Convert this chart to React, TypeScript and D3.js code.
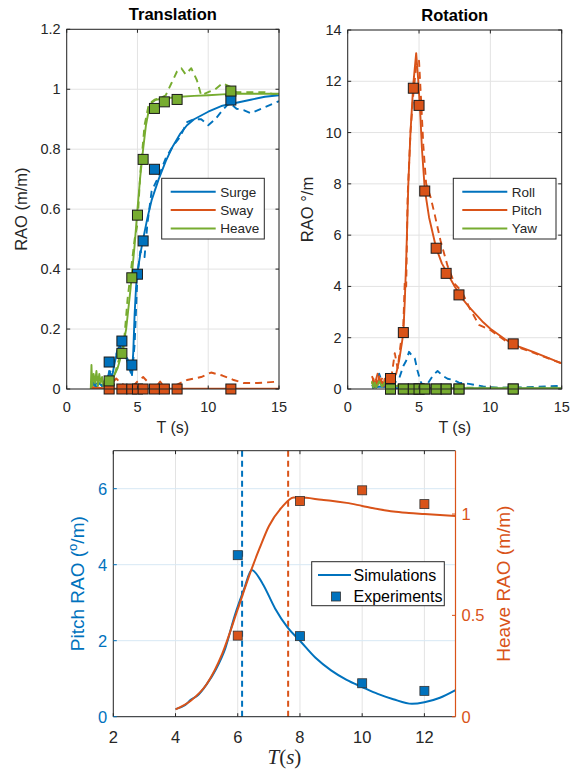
import * as d3 from 'd3';

const blue = '#0072BD';
const orange = '#D95319';
const green = '#77AC30';
const ink = '#262626';
const gridColor = '#e3e3e3';
const font = '"Liberation Sans", Arial, sans-serif';

type Pt = [number, number];

// Translation panel
const transXTicks = [0, 5, 10, 15];
const transYTicks = [0, 0.2, 0.4, 0.6, 0.8, 1, 1.2];
const expPeriods = [3.0, 3.9, 4.6, 5.0, 5.4, 6.2, 6.9, 7.8, 11.6];
const surgeExpT = [3.0, 3.9, 4.6, 5.0, 5.4, 6.2, 11.6];
const surgeExp = [0.09, 0.16, 0.08, 0.383, 0.494, 0.733, 0.964];
const swayExp = [0, 0, 0, 0, 0, 0, 0, 0, 0];
const heaveExp = [0.027, 0.119, 0.371, 0.58, 0.766, 0.936, 0.958, 0.966, 0.994];

const surgeSim: Pt[] = [
  [1.7, 0.01], [1.9, 0.02], [2.1, 0.005], [2.3, 0.02], [2.5, 0.01], [2.7, 0.02], [2.9, 0.03],
  [3.0, 0.06], [3.2, 0.04], [3.4, 0.09], [3.6, 0.13], [3.8, 0.15], [3.9, 0.15], [4.1, 0.12],
  [4.3, 0.09], [4.5, 0.06], [4.6, 0.05], [4.7, 0.12], [4.8, 0.25], [4.9, 0.34], [5.0, 0.39],
  [5.2, 0.45], [5.4, 0.5], [5.7, 0.57], [6.0, 0.63], [6.5, 0.7], [7, 0.76], [7.5, 0.81],
  [8, 0.85], [8.5, 0.88], [9, 0.9], [10, 0.925], [11, 0.945], [12, 0.955], [13, 0.965],
  [14, 0.975], [15, 0.98],
];
const surgeModel: Pt[] = [
  [1.7, 0.01], [2.2, 0.02], [2.6, 0.01], [3.0, 0.05], [3.3, 0.08], [3.7, 0.15], [4.0, 0.12],
  [4.3, 0.1], [4.6, 0.04], [4.8, 0.15], [5.0, 0.38], [5.2, 0.46], [5.5, 0.44], [5.7, 0.55],
  [6.0, 0.66], [6.5, 0.71], [7.0, 0.77], [7.5, 0.81], [8.0, 0.84], [8.5, 0.89], [9.0, 0.9],
  [9.5, 0.9], [10.0, 0.88], [10.5, 0.9], [11, 0.93], [11.5, 0.955], [12, 0.935], [12.5, 0.93],
  [13, 0.92], [14, 0.94], [15, 0.96],
];
const swaySim: Pt[] = [[1.7, 0.002], [2.2, 0.004], [2.8, 0.002], [3.2, 0.001], [15, 0.001]];
const swayModel: Pt[] = [
  [1.7, 0.005], [2.5, 0.01], [3.2, 0.02], [3.5, 0.035], [3.8, 0.02], [4.2, 0.01], [4.6, 0.005],
  [5.0, 0.025], [5.4, 0.04], [5.8, 0.02], [6.2, 0.0], [6.6, 0.025], [7.0, 0.0], [7.4, 0.0],
  [7.8, 0.015], [8.5, 0.03], [9.5, 0.04], [10.2, 0.055], [11, 0.045], [11.8, 0.03],
  [12.5, 0.02], [13.5, 0.02], [15, 0.025],
];
const heaveSim: Pt[] = [
  [1.7, 0.0], [1.75, 0.08], [1.8, 0.01], [1.9, 0.05], [2.0, 0.02], [2.1, 0.06], [2.2, 0.01],
  [2.3, 0.05], [2.4, 0.02], [2.5, 0.04], [2.6, 0.01], [2.7, 0.03], [2.8, 0.02], [2.9, 0.03],
  [3.0, 0.03], [3.3, 0.04], [3.6, 0.07], [3.9, 0.12], [4.2, 0.2], [4.5, 0.33], [4.8, 0.48],
  [5.0, 0.6], [5.2, 0.71], [5.4, 0.8], [5.6, 0.88], [5.8, 0.93], [6.0, 0.955], [6.3, 0.965],
  [7, 0.97], [8, 0.975], [9, 0.978], [10, 0.98], [11, 0.983], [12, 0.985], [13, 0.985],
  [14, 0.985], [15, 0.985],
];
const heaveModel: Pt[] = [
  [1.8, 0.03], [2.0, 0.01], [2.2, 0.04], [2.5, 0.01], [2.8, 0.03], [3.0, 0.02], [3.4, 0.05],
  [3.7, 0.1], [4.0, 0.13], [4.3, 0.3], [4.6, 0.42], [4.8, 0.5], [5.0, 0.55], [5.2, 0.72],
  [5.5, 0.88], [5.8, 0.95], [6.2, 0.965], [6.6, 0.97], [7.0, 0.98], [7.4, 1.02], [7.8, 1.06],
  [8.1, 1.07], [8.4, 1.05], [8.8, 1.07], [9.2, 1.03], [9.5, 0.98], [10, 0.99], [10.5, 1.0],
  [11, 1.02], [11.5, 1.01], [12, 0.99], [13, 0.99], [14, 0.99], [15, 0.98],
];

// Rotation panel
const rotXTicks = [0, 5, 10, 15];
const rotYTicks = [0, 2, 4, 6, 8, 10, 12, 14];
const rollExp = [0, 0, 0, 0, 0, 0, 0, 0, 0];
const pitchExp = [0.41, 2.2, 11.73, 11.06, 7.72, 5.49, 4.51, 3.67, 1.76];
const yawExp = [0, 0, 0, 0, 0, 0, 0, 0, 0];

const rollSim: Pt[] = [[1.7, 0.05], [2.3, 0.1], [3.0, 0.06], [3.5, 0.03], [6, 0.02], [15, 0.02]];
const rollModel: Pt[] = [
  [1.7, 0.1], [2.0, 0.3], [2.2, 0.6], [2.4, 0.3], [2.7, 0.1], [3.0, 0.3], [3.3, 0.25],
  [3.6, 0.4], [3.9, 0.9], [4.1, 1.1], [4.3, 1.45], [4.5, 1.3], [4.7, 1.2], [4.9, 0.7],
  [5.1, 0.3], [5.3, 0.1], [5.6, 0.2], [6.0, 0.55], [6.3, 0.7], [6.7, 0.5], [7.0, 0.4],
  [7.4, 0.35], [7.8, 0.25], [8.5, 0.2], [9, 0.15], [9.5, 0.1], [10.5, 0.05], [12, 0.06],
  [13, 0.08], [15, 0.12],
];
const pitchSim: Pt[] = [
  [1.7, 0.2], [1.8, 0.4], [1.9, 0.1], [2.0, 0.35], [2.1, 0.15], [2.2, 0.5], [2.3, 0.2],
  [2.4, 0.3], [2.5, 0.1], [2.6, 0.4], [2.7, 0.15], [2.8, 0.3], [2.9, 0.2], [3.0, 0.3],
  [3.2, 0.4], [3.4, 0.6], [3.6, 1.1], [3.8, 1.8], [3.9, 2.2], [4.0, 3.4], [4.1, 5.0],
  [4.25, 8.0], [4.4, 10.0], [4.6, 11.9], [4.8, 13.1], [4.95, 12.0], [5.1, 10.6], [5.2, 9.4],
  [5.4, 7.8], [5.7, 6.7], [6.2, 5.5], [6.6, 4.9], [7, 4.5], [7.5, 4.0], [8, 3.55],
  [8.5, 3.2], [9, 2.9], [9.5, 2.6], [10, 2.35], [11, 1.95], [11.6, 1.76], [12, 1.65],
  [13, 1.45], [14, 1.22], [15, 1.0],
];
const pitchModel: Pt[] = [
  [1.7, 0.5], [1.9, 0.2], [2.1, 0.6], [2.3, 0.3], [2.5, 0.5], [2.7, 0.2], [2.9, 0.4],
  [3.1, 0.6], [3.3, 1.4], [3.5, 0.8], [3.7, 1.7], [3.9, 2.5], [4.0, 4.2], [4.1, 4.0],
  [4.2, 7.5], [4.4, 10], [4.6, 11.5], [4.8, 12.6], [5.0, 12.8], [5.15, 11.2], [5.3, 9.5],
  [5.5, 8.0], [5.8, 7.5], [6.1, 6.8], [6.5, 5.8], [7.0, 4.8], [7.5, 4.1], [8, 3.8],
  [8.5, 3.2], [9.2, 2.5], [10, 2.3], [11, 1.9], [12, 1.62], [13, 1.42], [15, 1.0],
];
const yawSim: Pt[] = [
  [1.7, 0.3], [1.8, 0.05], [1.9, 0.25], [2.0, 0.05], [2.2, 0.3], [2.4, 0.1], [2.6, 0.25],
  [2.8, 0.05], [3.0, 0.2], [3.3, 0.1], [3.6, 0.15], [3.8, 0.05], [4.5, 0.03], [15, 0.03],
];
const yawModel: Pt[] = [
  [1.7, 0.1], [2.1, 0.2], [2.5, 0.1], [3.0, 0.15], [3.5, 0.1], [4.0, 0.05], [15, 0.05],
];

// Bottom panel (yyaxis)
const botXTicks = [2, 4, 6, 8, 10, 12];
const botLeftTicks = [0, 2, 4, 6];
const botRightTicks = [0, 0.5, 1];
const botExpT = [6, 8, 10, 12];
const pitchRaoExp = [4.25, 2.12, 0.88, 0.68];
const heaveRaoExp = [0.4, 1.064, 1.117, 1.049];
const pitchRaoSim: Pt[] = [
  [4, 0.2], [4.3, 0.3], [4.5, 0.45], [4.7, 0.55], [5, 0.85], [5.3, 1.25], [5.6, 1.8],
  [5.9, 2.65], [6.2, 3.35], [6.45, 3.86], [6.8, 3.5], [7.2, 2.85], [7.6, 2.35], [8, 2.0],
  [8.5, 1.55], [9, 1.22], [9.5, 0.97], [10, 0.78], [10.5, 0.6], [11, 0.46], [11.6, 0.34],
  [12, 0.38], [12.5, 0.5], [13, 0.7],
];
const heaveRaoSim: Pt[] = [
  [4, 0.036], [4.5, 0.08], [5, 0.16], [5.5, 0.31], [6, 0.53], [6.4, 0.71], [6.7, 0.83],
  [7, 0.94], [7.4, 1.03], [7.8, 1.082], [8.2, 1.08], [8.7, 1.07], [9, 1.066], [9.5, 1.055],
  [10, 1.04], [10.5, 1.025], [11, 1.012], [11.5, 1.005], [12, 1.0], [12.5, 0.995], [13, 0.99],
];
const pitchResT = 6.14;
const heaveResT = 7.62;

type Series = { color: string; sim: Pt[]; model: Pt[]; expT: number[]; exp: number[]; name: string };

const translation: Series[] = [
  { name: 'Surge', color: blue, sim: surgeSim, model: surgeModel, expT: surgeExpT, exp: surgeExp },
  { name: 'Sway', color: orange, sim: swaySim, model: swayModel, expT: expPeriods, exp: swayExp },
  { name: 'Heave', color: green, sim: heaveSim, model: heaveModel, expT: expPeriods, exp: heaveExp },
];
const rotation: Series[] = [
  { name: 'Roll', color: blue, sim: rollSim, model: rollModel, expT: expPeriods, exp: rollExp },
  { name: 'Pitch', color: orange, sim: pitchSim, model: pitchModel, expT: expPeriods, exp: pitchExp },
  { name: 'Yaw', color: green, sim: yawSim, model: yawModel, expT: expPeriods, exp: yawExp },
];

type Box = { l: number; r: number; t: number; b: number };

const Panel = ({ id, box, xTicks, yTicks, yMax, title, ylabel, ylabelDx, series, legend }: {
  id: string; box: Box; xTicks: number[]; yTicks: number[]; yMax: number; title: string;
  ylabel: string; ylabelDx: number; series: Series[]; legend: { x: number; y: number; w: number; h: number };
}) => {
  const x = d3.scaleLinear().domain([0, 15]).range([box.l, box.r]);
  const y = d3.scaleLinear().domain([0, yMax]).range([box.b, box.t]);
  const line = d3.line<Pt>().x((d) => x(d[0])).y((d) => y(d[1]));
  const tk = 3.5;
  const ms = 10;
  return (
    <g>
      <defs>
        <clipPath id={id}>
          <rect x={box.l} y={box.t} width={box.r - box.l} height={box.b - box.t} />
        </clipPath>
      </defs>
      <rect x={box.l} y={box.t} width={box.r - box.l} height={box.b - box.t} fill="#fff" />
      {xTicks.map((v) => (
        <line key={'gx' + v} x1={x(v)} x2={x(v)} y1={box.t} y2={box.b} stroke={gridColor} />
      ))}
      {yTicks.map((v) => (
        <line key={'gy' + v} x1={box.l} x2={box.r} y1={y(v)} y2={y(v)} stroke={gridColor} />
      ))}
      <g clipPath={`url(#${id})`} fill="none" strokeWidth={1.9} strokeLinejoin="round">
        {series.map((s) => (
          <path key={'m' + s.name} d={line(s.model) ?? ''} stroke={s.color} strokeDasharray="7,5" />
        ))}
        {series.map((s) => (
          <path key={'s' + s.name} d={line(s.sim) ?? ''} stroke={s.color} />
        ))}
      </g>
      {series.map((s) =>
        s.expT.map((t, i) => (
          <rect key={s.name + i} x={x(t) - ms / 2} y={y(s.exp[i]) - ms / 2} width={ms} height={ms}
            fill={s.color} stroke="#1a1a1a" strokeWidth={1} />
        ))
      )}
      <rect x={box.l} y={box.t} width={box.r - box.l} height={box.b - box.t} fill="none" stroke={ink} strokeWidth={1} />
      {xTicks.map((v) => (
        <g key={'tx' + v} stroke={ink}>
          <line x1={x(v)} x2={x(v)} y1={box.b} y2={box.b - tk} />
          <line x1={x(v)} x2={x(v)} y1={box.t} y2={box.t + tk} />
        </g>
      ))}
      {yTicks.map((v) => (
        <g key={'ty' + v} stroke={ink}>
          <line x1={box.l} x2={box.l + tk} y1={y(v)} y2={y(v)} />
          <line x1={box.r} x2={box.r - tk} y1={y(v)} y2={y(v)} />
        </g>
      ))}
      <g fontFamily={font} fontSize={14.5} fill={ink}>
        {xTicks.map((v) => (
          <text key={'lx' + v} x={x(v)} y={box.b + 23} textAnchor="middle">{v}</text>
        ))}
        {yTicks.map((v) => (
          <text key={'ly' + v} x={box.l - 6} y={y(v) + 5} textAnchor="end">{v}</text>
        ))}
      </g>
      <text x={(box.l + box.r) / 2} y={box.t - 9} textAnchor="middle" fontFamily={font}
        fontWeight="bold" fontSize={16.5} fill="#000">{title}</text>
      <text x={(box.l + box.r) / 2} y={box.b + 44} textAnchor="middle" fontFamily={font} fontSize={16} fill={ink}>T (s)</text>
      <text transform={`translate(${box.l - ylabelDx},${(box.t + box.b) / 2}) rotate(-90)`} textAnchor="middle"
        fontFamily={font} fontSize={16.5} fill={ink}>{ylabel}</text>
      <g>
        <rect x={legend.x} y={legend.y} width={legend.w} height={legend.h} fill="#fff" stroke={ink} strokeWidth={1} />
        {series.map((s, i) => {
          const ly = legend.y + 13.5 + i * 18.3;
          return (
            <g key={'lg' + s.name}>
              <line x1={legend.x + 9} x2={legend.x + 54} y1={ly} y2={ly} stroke={s.color} strokeWidth={2} />
              <text x={legend.x + 58.5} y={ly + 5} fontFamily={font} fontSize={13.5} fill={ink}>{s.name}</text>
            </g>
          );
        })}
      </g>
    </g>
  );
};

const Bottom = () => {
  const box = { l: 113.3, r: 455.5, t: 450.7, b: 716.7 };
  const x = d3.scaleLinear().domain([2, 13]).range([box.l, box.r]);
  const yL = d3.scaleLinear().domain([0, 7]).range([box.b, box.t]);
  const yR = d3.scaleLinear().domain([0, 1.3125]).range([box.b, box.t]);
  const lineL = d3.line<Pt>().x((d) => x(d[0])).y((d) => yL(d[1])).curve(d3.curveMonotoneX);
  const lineR = d3.line<Pt>().x((d) => x(d[0])).y((d) => yR(d[1])).curve(d3.curveMonotoneX);
  const ms = 9;
  const tk = 3.5;
  return (
    <g>
      {botXTicks.map((v) => (
        <line key={'gx' + v} x1={x(v)} x2={x(v)} y1={box.t} y2={box.b} stroke="#e3e3e3" />
      ))}
      {botLeftTicks.map((v) => (
        <line key={'gy' + v} x1={box.l} x2={box.r} y1={yL(v)} y2={yL(v)} stroke="#d7e8f4" />
      ))}
      <line x1={x(pitchResT)} x2={x(pitchResT)} y1={box.t} y2={box.b} stroke={blue} strokeWidth={2} strokeDasharray="6,4" />
      <line x1={x(heaveResT)} x2={x(heaveResT)} y1={box.t} y2={box.b} stroke={orange} strokeWidth={2} strokeDasharray="6,4" />
      <path d={lineL(pitchRaoSim) ?? ''} fill="none" stroke={blue} strokeWidth={2} />
      <path d={lineR(heaveRaoSim) ?? ''} fill="none" stroke={orange} strokeWidth={2} />
      {botExpT.map((t, i) => (
        <rect key={'bp' + t} x={x(t) - ms / 2} y={yL(pitchRaoExp[i]) - ms / 2} width={ms} height={ms}
          fill={blue} stroke="#333" strokeWidth={0.8} />
      ))}
      {botExpT.map((t, i) => (
        <rect key={'bh' + t} x={x(t) - ms / 2} y={yR(heaveRaoExp[i]) - ms / 2} width={ms} height={ms}
          fill={orange} stroke="#333" strokeWidth={0.8} />
      ))}
      <line x1={box.l} x2={box.r} y1={box.t} y2={box.t} stroke={ink} />
      <line x1={box.l} x2={box.r} y1={box.b} y2={box.b} stroke={ink} />
      <line x1={box.l} x2={box.l} y1={box.t} y2={box.b} stroke={ink} />
      <line x1={box.r} x2={box.r} y1={box.t} y2={box.b} stroke={orange} strokeWidth={1.2} />
      {botXTicks.map((v) => (
        <g key={'tx' + v} stroke={ink}>
          <line x1={x(v)} x2={x(v)} y1={box.b} y2={box.b - tk} />
          <line x1={x(v)} x2={x(v)} y1={box.t} y2={box.t + tk} />
        </g>
      ))}
      {botLeftTicks.map((v) => (
        <line key={'tl' + v} x1={box.l} x2={box.l + tk} y1={yL(v)} y2={yL(v)} stroke={blue} />
      ))}
      {botRightTicks.map((v) => (
        <line key={'tr' + v} x1={box.r} x2={box.r - tk} y1={yR(v)} y2={yR(v)} stroke={orange} />
      ))}
      <g fontFamily={font} fontSize={16.5}>
        {botXTicks.map((v) => (
          <text key={'lx' + v} x={x(v)} y={box.b + 26} textAnchor="middle" fill={ink}>{v}</text>
        ))}
        {botLeftTicks.map((v) => (
          <text key={'ll' + v} x={box.l - 6} y={yL(v) + 6} textAnchor="end" fill={blue}>{v}</text>
        ))}
        {botRightTicks.map((v) => (
          <text key={'lr' + v} x={box.r + 6} y={yR(v) + 6} textAnchor="start" fill={orange}>{v}</text>
        ))}
      </g>
      <text transform={`translate(${box.l - 29},${(box.t + box.b) / 2}) rotate(-90)`} textAnchor="middle"
        fontFamily={font} fontSize={19} fill={blue}>
        Pitch RAO (<tspan fontSize={13} dy={-7}>o</tspan><tspan dy={7}>/m)</tspan>
      </text>
      <text transform={`translate(${box.r + 54},${(box.t + box.b) / 2}) rotate(-90)`} textAnchor="middle"
        fontFamily={font} fontSize={19} fill={orange}>Heave RAO (m/m)</text>
      <text x={(box.l + box.r) / 2} y={box.b + 47} textAnchor="middle" fontFamily='"Liberation Serif", "DejaVu Serif", serif'
        fontSize={21} fill={ink}>
        <tspan fontStyle="italic">T</tspan>(<tspan fontStyle="italic">s</tspan>)
      </text>
      <g>
        <rect x={311.7} y={561.7} width={132.6} height={44} fill="#fff" stroke={ink} strokeWidth={1} />
        <line x1={318} x2={351} y1={575} y2={575} stroke={blue} strokeWidth={2} />
        <text x={353.5} y={580.5} fontFamily={font} fontSize={16} fill="#000">Simulations</text>
        <rect x={336 - ms / 2} y={596.5 - ms / 2} width={ms} height={ms} fill={blue} stroke="#333" strokeWidth={0.8} />
        <text x={353.5} y={602} fontFamily={font} fontSize={16} fill="#000">Experiments</text>
      </g>
    </g>
  );
};

export default function App() {
  return (
    <svg width={578} height={771} style={{ position: 'absolute', left: 0, top: 0, background: '#fff' }}>
      <rect width={578} height={771} fill="#fff" />
      <Panel id="clipT" box={{ l: 66.7, r: 279, t: 29.3, b: 389 }} xTicks={transXTicks} yTicks={transYTicks}
        yMax={1.2} title="Translation" ylabel="RAO (m/m)" ylabelDx={40} series={translation}
        legend={{ x: 161.7, y: 178.3, w: 102.6, h: 60.7 }} />
      <Panel id="clipR" box={{ l: 347.7, r: 561.7, t: 30, b: 389 }} xTicks={rotXTicks} yTicks={rotYTicks}
        yMax={14} title="Rotation" ylabel="RAO °/m" ylabelDx={35} series={rotation}
        legend={{ x: 453.3, y: 178.3, w: 102.7, h: 60.7 }} />
      <Bottom />
    </svg>
  );
}
